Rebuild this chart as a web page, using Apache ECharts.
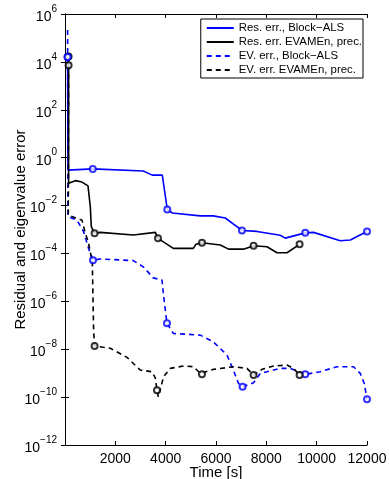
<!DOCTYPE html>
<html>
<head>
<meta charset="utf-8">
<script src="https://cdn.jsdelivr.net/npm/echarts@6/dist/echarts.min.js"></script>
<style>
  html, body { margin: 0; padding: 0; background: #fff; }
  #chart { width: 389px; height: 479px; }
</style>
</head>
<body>
<div id="chart"></div>
<script>
// values: time [s] and log10 of the error
const resBlockT = [103, 119, 1105, 3111, 3468, 3866, 4064, 4263, 5375, 5892, 6369, 7032, 7628, 8554, 8753, 9547, 9877, 10938, 11335, 12000]
const resBlockE = [4.20, -0.52, -0.47, -0.56, -0.73, -0.73, -2.16, -2.31, -2.43, -2.43, -2.52, -3.04, -3.08, -3.24, -3.36, -3.14, -3.12, -3.47, -3.44, -3.08]
const resBlockMarks = [[103, 4.20], [1105, -0.47], [4064, -2.16], [7032, -3.04], [9547, -3.14], [12000, -3.08]]

const resEvaT = [143, 143, 409, 675, 914, 1005, 1045, 1176, 1402, 2714, 3588, 3695, 4303, 5097, 5200, 5443, 6170, 6500, 7096, 7493, 8025, 8423, 8820, 9321]
const resEvaE = [4.22, -1.07, -0.96, -1.02, -1.18, -2.05, -2.88, -3.16, -3.12, -3.23, -3.12, -3.37, -3.79, -3.79, -3.62, -3.55, -3.65, -3.82, -3.82, -3.68, -3.72, -3.97, -3.97, -3.62]
const resEvaMarks = [[143, 4.22], [1176, -3.16], [3695, -3.37], [5443, -3.55], [7493, -3.68], [9321, -3.62]]

const evBlockT = [103, 119, 477, 739, 938, 1112, 1402, 2714, 3111, 3508, 3854, 3905, 4052, 4303, 5375, 5892, 6436, 6687, 6897, 7056, 7493, 7759, 8554, 8951, 9547, 10143, 10806, 11466, 11732, 11891, 12000]
const evBlockE = [5.33, -2.47, -2.61, -3.09, -3.79, -4.28, -4.23, -4.30, -4.56, -5.02, -5.11, -5.65, -6.92, -7.34, -7.41, -7.69, -8.24, -8.87, -9.43, -9.57, -9.40, -9.01, -8.80, -8.80, -9.05, -8.94, -8.73, -8.73, -9.01, -9.43, -10.09]
const evBlockMarks = [[103, 4.20], [1112, -4.28], [4052, -6.92], [7056, -9.57], [9547, -9.05], [12000, -10.09]]

const evEvaT = [143, 131, 675, 806, 926, 1085, 1136, 1176, 1800, 2463, 2992, 3457, 3588, 3655, 3707, 3917, 4184, 4712, 5109, 5375, 5443, 5904, 6698, 7231, 7493, 7827, 8288, 8820, 9082, 9321]
const evEvaE = [3.86, -2.40, -2.61, -3.15, -3.52, -4.36, -7.20, -7.87, -7.96, -8.34, -8.87, -8.94, -9.20, -9.71, -9.99, -9.15, -8.80, -8.70, -8.73, -9.01, -9.05, -8.84, -8.73, -8.80, -9.08, -8.84, -8.70, -8.66, -8.80, -9.08]
const evEvaMarks = [[143, 3.86], [1176, -7.87], [3655, -9.71], [5443, -9.05], [7493, -9.08], [9321, -9.08]]

const names = ['Res. err., Block\u2212ALS', 'Res. err. EVAMEn, prec.', 'EV. err., Block\u2212ALS', 'EV. err. EVAMEn, prec.']

const FONT = 'Liberation Sans'
const BLUE = '#0000ff'
const BLACK = '#000000'

function pairs(t, e) {
    return t.map((x, i) => [x, Math.pow(10, e[i])])
}
function marks(m) {
    return m.map(p => [p[0], Math.pow(10, p[1])])
}

function lineSeries(name, t, e, color, dashed) {
    return {
        type: 'line',
        name: name,
        data: pairs(t, e),
        symbol: 'none',
        lineStyle: { color: color, width: 1.6, type: dashed ? [5, 4] : 'solid' },
        itemStyle: { color: color },
        animation: false,
        z: 3
    }
}
function markSeries(m, color) {
    return {
        type: 'scatter',
        data: marks(m),
        symbol: 'circle',
        symbolSize: 6,
        itemStyle: { color: '#fff', borderColor: color, borderWidth: 2 },
        animation: false,
        z: 4
    }
}

function expLabel(v) {
    const e = Math.round(Math.log10(v))
    return '{b|10}{s|' + String(e).replace('-', '\u2212') + '}'
}

const cs = echarts.init(document.getElementById('chart'))
const axisLine = { show: true, lineStyle: { color: '#000', width: 1 } }
const tick = { show: true, inside: true, length: 4, lineStyle: { color: '#000' } }
const option = {
    backgroundColor: '#fff',
    animation: false,
    grid: { left: 65, right: 22, top: 14, bottom: 34, outerBoundsMode: 'none', containLabel: false },
    legend: {
        data: names,
        orient: 'vertical',
        right: 26,
        top: 19,
        itemWidth: 27,
        itemHeight: 10,
        itemGap: 0,
        padding: [2, 1, 1, 5],
        borderColor: '#000',
        borderWidth: 1,
        borderRadius: 0,
        backgroundColor: '#fff',
        itemStyle: { opacity: 0 },
        textStyle: { fontFamily: FONT, fontSize: 11.4, lineHeight: 14, color: '#000' }
    },
    xAxis: [
        {
            type: 'value',
            min: 0,
            max: 12000,
            interval: 2000,
            name: 'Time [s]',
            nameLocation: 'middle',
            nameGap: 20,
            nameMoveOverlap: false,
            nameTextStyle: { fontFamily: FONT, fontSize: 15, color: '#000' },
            axisLine: axisLine,
            axisTick: tick,
            axisLabel: {
                fontFamily: FONT, fontSize: 14, color: '#000', margin: 7,
                formatter: v => (v === 0 ? '' : String(v))
            },
            splitLine: { show: false }
        },
        {
            type: 'value',
            position: 'top',
            min: 0,
            max: 12000,
            interval: 2000,
            axisLine: axisLine,
            axisTick: tick,
            axisLabel: { show: false },
            splitLine: { show: false }
        }
    ],
    yAxis: [
        {
            type: 'log',
            logBase: 10,
            min: 1e-12,
            max: 1e6,
            interval: 2,
            name: 'Residual and eigenvalue error',
            nameLocation: 'middle',
            nameGap: 37,
            nameMoveOverlap: false,
            nameTextStyle: { fontFamily: FONT, fontSize: 15, color: '#000' },
            axisLine: axisLine,
            axisTick: tick,
            minorTick: { show: false },
            axisLabel: {
                margin: 8,
                formatter: expLabel,
                rich: {
                    b: { fontFamily: FONT, fontSize: 14, color: '#000', lineHeight: 20, verticalAlign: 'bottom' },
                    s: { fontFamily: FONT, fontSize: 10, color: '#000', verticalAlign: 'top', lineHeight: 20 }
                }
            },
            splitLine: { show: false }
        },
        {
            type: 'log',
            logBase: 10,
            min: 1e-12,
            max: 1e6,
            interval: 2,
            position: 'right',
            axisLine: axisLine,
            axisTick: tick,
            axisLabel: { show: false },
            splitLine: { show: false }
        }
    ],
    series: [
        lineSeries(names[0], resBlockT, resBlockE, BLUE, false),
        lineSeries(names[1], resEvaT, resEvaE, BLACK, false),
        lineSeries(names[2], evBlockT, evBlockE, BLUE, true),
        lineSeries(names[3], evEvaT, evEvaE, BLACK, true),
        markSeries(resBlockMarks, BLUE),
        markSeries(resEvaMarks, BLACK),
        markSeries(evBlockMarks, BLUE),
        markSeries(evEvaMarks, BLACK)
    ]
}
cs.setOption(option)
</script>
</body>
</html>
